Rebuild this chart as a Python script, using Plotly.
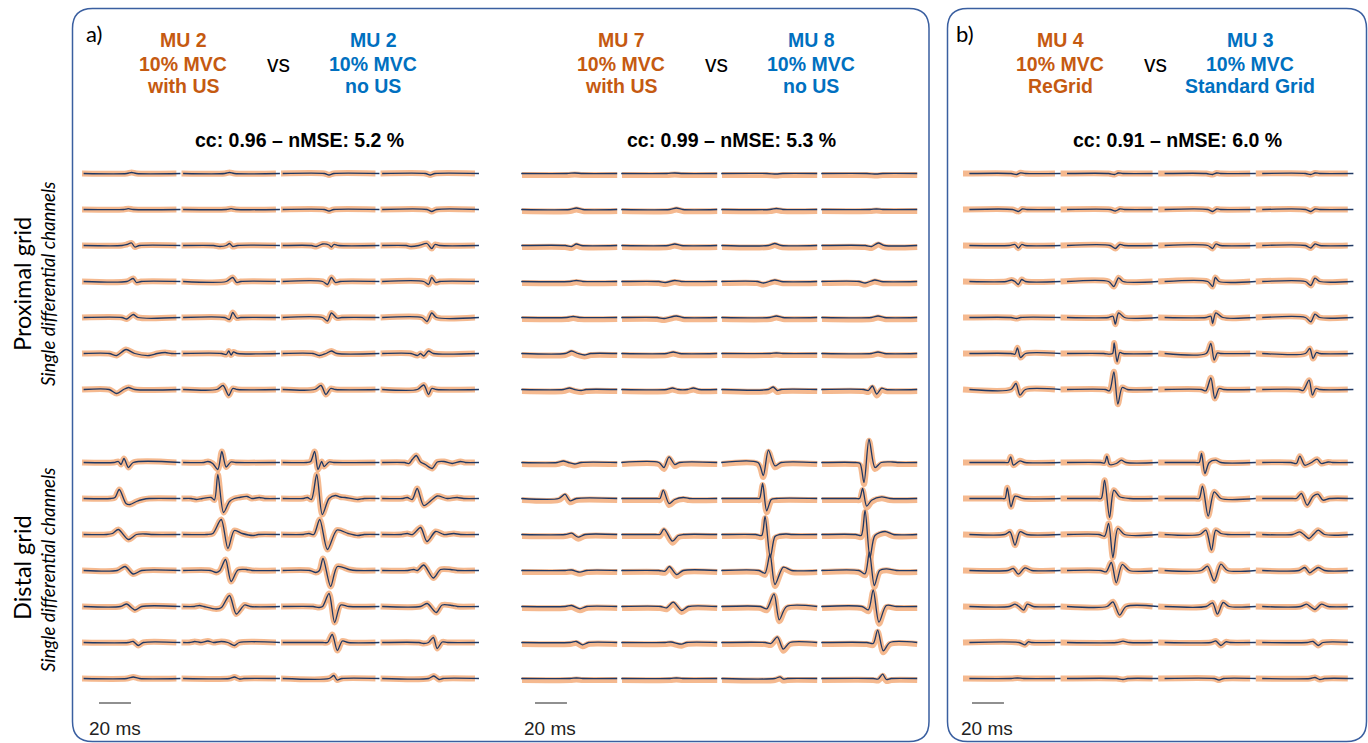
import plotly.graph_objects as go

# ---------------- DATA (time in ms within a channel window, amplitude in a.u.) ----------------
# Each grid: 7 rows (top -> bottom) x 4 columns; each cell = list of [t_ms, amplitude] knots
A1_PROX = [
    [[[28, 0], [31, 1], [34, 0]], [[27, 0], [30, 1], [33, 0]], [[27, 0], [30, -1.5], [33, 0]], [[28, 0], [31, -1.5], [34, 0]]],
    [[[26, 0], [29, 0.8], [32, 0]], [[28, 0], [31, 0.8], [34, 0]], [[27, 0], [30, -1.5], [33, 0]], [[29, 0], [32, -2], [35, 0]]],
    [[[25, 0], [28, 1], [31, 2.5], [33, -1.5], [36, 0]], [[20, 0], [24, -1], [28, 0], [30, 2], [32, -1], [35, 0]],
     [[19, 0], [22, -1], [26, 1.5], [30, 0.5], [31.5, -1.5], [33, 1], [36, 0]], [[16, 0], [19, -1], [24, 0], [29, 2], [32, -3], [34, 1], [37, 0]]],
    [[[28, 0], [32, 3], [34, -1], [37, 0]], [[28, 0], [32, 4], [34.5, -1], [37, 0]],
     [[26, 0], [29, -3], [31.5, 4], [34, -1], [37, 0]], [[27, 0], [30, -3], [32, 4], [34.5, -1], [37, 0]]],
    [[[25, 0], [28, -1.5], [32, 3], [35, 0]], [[27, 0], [30, -2], [32, 5], [34.5, -0.5], [37, 0]],
     [[26, 0], [29, -3.5], [31.5, 4.5], [35, -0.5], [38, 0]], [[26, 0], [29, -4], [32, 4.5], [35, 0]]],
    [[[17, 0], [21.7, -2], [27.5, 4], [33, 0], [42, -2], [47, 0], [52, 1], [56, 0]],
     [[25, 0], [28, -1], [29.5, 2.5], [31, -1.5], [32.5, 1.5], [35, 0]],
     [[20, 0], [24, -2], [28, 0], [31.5, 2.5], [35, 0]], [[19, 0], [23, -2], [25, 0], [27, -2.5], [30, 2.5], [33, 0]]],
    [[[17, 0], [21.7, -4], [26, 0], [29, 2], [33, 0]], [[22, 0], [26, 4], [29.5, -6], [32, 1], [35, 0]],
     [[21, 0], [25, 4], [28, -5], [31, 1], [34, 0]], [[23, 0], [27, 4.5], [30, -5], [32, 1], [35, 0]]],
]
A1_DIST = [
    [[[20, 0], [22.7, 1], [24.4, -2], [26.25, 4], [29, -5], [32, 0]],
     [[14, 0], [16.5, 1], [19.5, -1], [22.7, -7], [25.2, 11], [27.9, -4.5], [30.8, 0.5], [34, 0]],
     [[16, 0], [18.5, 1], [21, 11], [23.1, -7], [25.4, 1], [26.9, -4], [30, 0.5], [33, 0]],
     [[15, 0], [17.7, -1], [19.8, 3], [22.3, 7], [25, 0.5], [28, -2], [32.3, -6], [35.4, 0.5], [39.6, 1], [44.8, -1], [50, 1], [53, 0]]],
    [[[18, 0], [20.6, 1], [23.3, 9], [27.5, -5], [30, -6], [34, -3], [38, -1], [42, 0]],
     [[6, 0], [9.2, -1], [13, 0], [18.5, 1], [20.6, -1.5], [22.7, 24], [26.25, -14], [30, -3], [33, 0], [36, 1], [41, 2], [44, 0], [48.6, 1], [52, 0]],
     [[14, 0], [16.5, 1], [19, -1], [22.3, 24], [25.8, -16], [30, 0], [34, 3], [37, 1.5], [40, 1], [48, -1], [52, 0]],
     [[14, 0], [16.7, 1], [19.8, -1], [22.9, 10], [27, -7], [32.3, -1], [35.4, 2.5], [41.7, 0], [47.9, 1], [52, 0]]],
    [[[15.4, 0], [19, 1], [22.7, 5], [29, -5], [34, 0], [40, 0.5], [44, 0]],
     [[16, 0], [19.6, 1], [24.8, 15], [29, -14], [33, 4], [38, 1], [44.6, -1], [48, 0]],
     [[14, 0], [17.5, 1], [20.5, 0], [24.2, 15], [29, -15], [35, 4.5], [42, 1], [48, -1], [52, 0]],
     [[13, 0], [16.7, 1], [20, 0], [25, 7], [29, -7], [34.4, 3], [39.6, 0], [45.8, 1], [50, 0]]],
    [[[22, 0], [26.9, 4], [32, -3.5], [37.3, 0]],
     [[18, 0], [21.7, -2], [24, 0], [27.5, 11], [31, -11], [35.2, 0.5], [40.4, 1], [44, 0]],
     [[18, 0], [21.7, -2], [24, 0], [26.25, 12], [31, -16], [35.2, 4], [42.5, 1], [47, 0]],
     [[17, 0], [20.8, 1], [23, 0], [27, 5.5], [33, -7.5], [37.5, 1], [43.75, 1], [48, 0]]],
    [[[24, 0], [27.9, 2.5], [33.1, -3.5], [37.3, 0]],
     [[8, 0], [11.25, 1], [14, 0], [21.7, -2.5], [25, -1], [30, 11], [34.2, -7.5], [39.4, 1.5], [43, 0]],
     [[20, 0], [23.75, -1], [26, 0], [30, 13], [33.5, -16], [37.3, 1.5], [42.5, 0]],
     [[25, 0], [29.2, 3], [34.8, -6], [38.5, 1.5], [44.8, 1], [48, 0]]],
    [[[29, 0], [32, 1], [35.2, -3], [38.3, 0]],
     [[5, 0], [8.3, 1], [12, 0], [16.5, 1.5], [20, 0], [24.8, 1], [29, 0], [33.1, -3], [36, 0]],
     [[26, 0], [29, 0], [32, 8], [35.2, -8], [38.3, 1.5], [42, 0]],
     [[24, 0], [27, -1], [30, 0], [33, 5], [35.4, -6], [38.5, 0.5], [42, 0]]],
    [[[28, 0], [32, 1.5], [36, 0]], [[30, 0], [33, 1.5], [36.25, -0.5], [39, 0]],
     [[30, 0], [33, 3], [35, -1.5], [38, 0]], [[30, 0], [33.3, 2.5], [36.5, -1], [39, 0]]],
]

A2_PROX = [
    [[[28, 0], [33, 0.5], [38, 0]], [[28, 0], [33, 0.5], [38, 0]], [[28, 0], [34, -0.5], [38, 0]], [[28, 0], [34, -0.5], [38, 0]]],
    [[[30, 0], [34, 1.5], [38, 0]], [[30, 0], [34, 1.5], [38, 0]], [[30, 0], [34, 1], [38, 0]], [[30, 0], [34, 0.5], [38, 0]]],
    [[[27, 0], [31, -1], [34, 1.5], [37, 0]], [[29, 0], [33, 1.5], [37, 0]], [[29, 0], [33, 2], [37, 0]],
     [[27, 0], [31, -1], [35.2, 2.5], [39, 0]]],
    [[[30, 0], [34, 1], [38, 0]], [[23, 0], [27, -1], [33, 1], [37, 0]], [[22, 0], [26, -1.5], [33, 1.5], [37, 0]],
     [[23, 0], [27, -1.5], [33, 1.5], [37, 0]]],
    [[[28, 0], [32, 1], [36, 0]], [[22, 0], [26, -1], [34, 1.5], [38, 0]], [[30, 0], [34, 1.5], [38, 0]], [[31, 0], [35, 1.5], [39, 0]]],
    [[[27, 0], [31, 2.5], [35, 0], [39, -1.5], [43, 0]], [[28, 0], [32, 1.5], [36, 0]], [[30, 0], [34, 0.5], [38, 0]],
     [[31, 0], [35, 1.5], [39, 0]]],
    [[[26, 0], [29.6, 1.5], [33, 0], [37, -1], [40, 0]], [[28, 0], [31.5, 1.5], [35, 0], [41, 0], [44.6, 1.5], [48, 0]],
     [[29, 0], [32, 2.5], [34.5, -1], [37, 0]], [[26, 0], [29, -1], [31.5, 3.5], [34.2, -4.5], [37.3, 1.3], [40, 0]]],
]
A2_DIST = [
    [[[22, 0], [25.8, 1.5], [29, 0], [33, -1.5], [37, 0]],
     [[23, 0], [26.25, -5], [29.4, 5.7], [33, -2], [36, 0]],
     [[22.5, 0], [25.8, -13], [29, 12.3], [33.1, -3.3], [37, 0]],
     [[21, 0], [23.75, -1], [26.25, -20], [29.4, 23.3], [33.1, -5], [37, 0], [44, 0.5], [48, 0]]],
    [[[23, 0], [26.9, 4.3], [30, -2.3], [34, 0]],
     [[22, 0], [23.75, 0], [25.8, 8.3], [29.4, -5], [33, -1], [38.3, 1], [42, 0]],
     [[22, 0], [23.5, 0], [25.4, 15], [27.9, -12.3], [30.8, -1], [34, 0]],
     [[21, 0], [23.5, 0], [25.4, 10], [27.9, -7.7], [31, -1.7], [37.3, 1.7], [42.5, 0]]],
    [[[27, 0], [31, 1.3], [35.2, -2.7], [39.4, 0]],
     [[21, 0], [23.75, 0], [26.25, 5.7], [31.5, -6.7], [35.2, -1], [38.3, 0]],
     [[21, 0], [24.8, -1], [26.9, 18], [30.2, -23], [33.1, -2], [36, 0], [40, 0.5], [44, 0]],
     [[21, 0], [24.5, -1], [26.9, 24], [30, -23], [33.1, -1], [39.4, 3], [44.6, 0]]],
    [[[27, 0], [31, 0.5], [36.25, -1.7], [40.4, 0]],
     [[23, 0], [26.9, -0.7], [29.6, 4], [34.2, -4], [38.3, 0]],
     [[23, 0], [26.9, -2.7], [30, 16.7], [33.1, -14], [38.3, 3.3], [43.5, 0]],
     [[23, 0], [26.9, -3.3], [29.6, 18.3], [32.7, -15], [36, 0], [40.2, 1.7], [46.5, 0]]],
    [[[27, 0], [31, 1], [36.25, -2.3], [40.4, 0]],
     [[24, 0], [27.9, -1.3], [32, 4.3], [37.3, -4], [41.5, 0]],
     [[24, 0], [28, -2.3], [32.5, 12.7], [35.8, -13.3], [40.4, 0]],
     [[25, 0], [29, -3.3], [32, 16.7], [35.6, -15.7], [40.2, 1], [46.5, 0]]],
    [[[30, 0], [34, 1], [37.9, -2.3], [41.5, 0]],
     [[27, 0], [30.6, 0.5], [37.3, -1.7], [40.4, 0]],
     [[27, 0], [30.6, -1], [34.6, 5.7], [38.3, -6.7], [42.5, 0]],
     [[28, 0], [32, -1], [34.8, 12.3], [38.3, -8.3], [42.5, 0]]],
    [[[30, 0], [34, 0.5], [38, 0]], [[30, 0], [34, 0.5], [38, 0]],
     [[33, 0], [36.25, 1.7], [38.3, -0.5], [41, 0]], [[32, 0], [35.2, -0.5], [37.9, 4.3], [40.2, -1], [43.3, 0]]],
]

B_PROX = [
    [[[30, 0], [33.5, -1], [36, 0.7], [39, 0]], [[30, 0], [33.75, -1], [36, 0.5], [39, 0]],
     [[30, 0], [34, -1], [36.5, 0.5], [39, 0]], [[31, 0], [34.4, -1], [37, 0.5], [40, 0]]],
    [[[31, 0], [34.6, -2], [37, 0.5], [40, 0]], [[31, 0], [34.2, -1.5], [37, 0.5], [40, 0]],
     [[31, 0], [34, -2], [36.5, 0.5], [39, 0]], [[31, 0], [34.4, -2], [37, 0.5], [40, 0]]],
    [[[29, 0], [32.5, 1], [34.6, -2.7], [36.7, 1], [39, 0]], [[31, 0], [34.2, -3], [37, 1], [40, 0]],
     [[31, 0], [34, -3], [36, 1.5], [39, 0]], [[31, 0], [34.4, -2.5], [37, 1.5], [40, 0]]],
    [[[27, 0], [30.4, 1.5], [32.5, 0], [34.6, -3], [36.7, 2], [39, 0]], [[30, 0], [33.3, -5], [36.25, 3.7], [39, 0]],
     [[31, 0], [34, -5], [35.7, 4], [38, 0]], [[31, 0], [34.4, -4], [37, 3.3], [40, 0]]],
    [[[30, 0], [33.5, -1], [36, 0]], [[30, 0], [32.7, 1.3], [34.2, -6.7], [36.25, 4.7], [40, 0]],
     [[30, 0], [32.9, 1.3], [34, -6], [36, 4.7], [40.4, 0]], [[31, 0], [34.4, -4.3], [37, 3.3], [40, 0]]],
    [[[30, 0], [32.5, -0.7], [34, 5.7], [36, -4], [39, 0]],
     [[27, 0], [30.6, -0.7], [32.5, 0], [33.5, 10.5], [35.3, -8.3], [37, 1], [39, 0]],
     [[30, 0], [32.9, 10], [35, -6.7], [37, 0.5], [39, 0]], [[31, 0], [33.75, 5], [35.8, -5], [37.9, 1], [40, 0]]],
    [[[30, 0], [33.1, 6], [35.6, -5.7], [39, 0]],
     [[28, 0], [30.6, -1.3], [33.3, 17.7], [35.8, -14.7], [38.5, 2], [41.7, 0]],
     [[27, 0], [29.8, -1.3], [32.9, 11.7], [35.4, -9], [38.1, 1], [41, 0]],
     [[27, 0], [29.6, -1], [33.3, 9.3], [35.4, -5.7], [37.5, 1], [40, 0]]],
]
B_DIST = [
    [[[26, 0], [28.3, 0], [29.8, 5.7], [31.5, -2.7], [35.6, 1.7], [38.8, 0]],
     [[25, 0], [27.5, -0.5], [28.9, 6.3], [30.6, -2], [34.8, -1], [37.9, 2.3], [41, 0]],
     [[23, 0], [25.6, 0], [27.1, 9], [29.2, -11], [31.9, 0], [36, 2.3], [39.2, 0]],
     [[22, 0], [25.4, -1], [27.5, 6.3], [30.6, -2.7], [34.8, 0], [38.3, 3.3], [41, -1], [45.2, 0.5], [48, 0]]],
    [[[24, 0], [26.25, 0], [27.7, 10.7], [30, -8.3], [32.5, 2.3], [37.7, 0]],
     [[23, 0], [25.4, 0], [27.5, 18.3], [30.6, -19], [33.3, 8.3], [36.9, 1.7], [43, 0]],
     [[23, 0], [25.6, 0], [27.7, 12.3], [31.25, -17.7], [35, 6.7], [39.2, 0]],
     [[23, 0], [25.4, 0], [28.5, 5], [32.1, -6.7], [35.8, 2.3], [38.9, 4.3], [42, -1.7], [46.25, 0]]],
    [[[26, 0], [29.4, 2.7], [32.5, -10.7], [35.6, 2.7], [39.8, 0]],
     [[24, 0], [27.5, -1.7], [30, 11], [32.7, -23], [35.8, 6], [40, 0]],
     [[26, 0], [29.8, 4.3], [33.3, -15.7], [36, 4.3], [39.2, 1], [43.3, 0]],
     [[23, 0], [27.5, 2.7], [30, 0], [33.3, -4], [36, 0], [39, 4.3], [43, 0]]],
    [[[28, 0], [31.5, 2], [34.6, -3.7], [38.75, 2.7], [43, 0]],
     [[25, 0], [28.5, -1.3], [31.7, 8], [34.8, -12.3], [38.5, 6], [43, 0]],
     [[27, 0], [30.8, 4.3], [35, -10.3], [39.2, 6.3], [43.3, 0]],
     [[27, 0], [30.6, 3], [33.75, -2.3], [36, 0], [39, 3], [43, 0]]],
    [[[29, 0], [32.5, 2.3], [35, 0], [38, -3.7], [40.2, 2.3], [44, 0]],
     [[29, 0], [32.7, 4.7], [36.9, -8.7], [41, 0]],
     [[30, 0], [34, 3.7], [37, -7.7], [40.6, 4], [44.4, 0]],
     [[28, 0], [31.7, 2.3], [34, 0], [36.9, -3], [41, 2.3], [45.2, 0]]],
    [[[35, 0], [38.75, -2.3], [40.8, 0.7], [43, 0]], [[35, 0], [39, 1.3], [43, 0]],
     [[33, 0], [36, 1.5], [39.2, -3], [42.3, 0.7], [45, 0]], [[32, 0], [35.8, 1], [39, -3], [42, 0]]],
    [[[30, 0], [34, 0.5], [38, 0]], [[35, 0], [39, -1], [42, 0]],
     [[35, 0], [38, -1.5], [41, 0]], [[34, 0], [37, 1], [40, -1], [43, 0]]],
]

ORANGE_TITLES = [["MU 2", "10% MVC", "with US"], ["MU 7", "10% MVC", "with US"], ["MU 4", "10% MVC", "ReGrid"]]
BLUE_TITLES = [["MU 2", "10% MVC", "no US"], ["MU 8", "10% MVC", "no US"], ["MU 3", "10% MVC", "Standard Grid"]]
SIMILARITY = ["cc: 0.96 – nMSE: 5.2 %", "cc: 0.99 – nMSE: 5.3 %", "cc: 0.91 – nMSE: 6.0 %"]
SCALE_MS = 20
SCALE_LABEL = "20 ms"

# ---------------- LAYOUT / STYLE ----------------
W, H = 1368, 743
PX_PER_MS = 1.6
Y_TOP = 173.5          # pixel row of first baseline
ROW_STEP = 36
DIST_OFFSET = 289
ORANGE = "#C55A11"
BLUE = "#0070C0"
FRAME = "#3A5FA0"

PANELS = [
    dict(prox=A1_PROX, dist=A1_DIST, origin_px=82, pitch_ms=62.2, o_ms=(0, 59), b_ms=(1, 61.5), o_dy=0,
         bar_ms=10.6, dom_px=(75, 485), ox=183, bx=373, vsx=278, ccx=299, lab_x=114.5),
    dict(prox=A2_PROX, dist=A2_DIST, origin_px=522, pitch_ms=62.5, o_ms=(0, 59.5), b_ms=(-0.5, 59.5), o_dy=-1.5,
         bar_ms=8.1, dom_px=(510, 925), ox=621, bx=811, vsx=716, ccx=731, lab_x=550),
    dict(prox=B_PROX, dist=B_DIST, origin_px=963, pitch_ms=61.0, o_ms=(0, 57.5), b_ms=(4, 61), o_dy=0,
         bar_ms=5.6, dom_px=(950, 1362), ox=1060, bx=1250, vsx=1155, ccx=1177.5, lab_x=987),
]

fig = go.Figure()

for i, p in enumerate(PANELS):
    xa = "x" if i == 0 else f"x{i + 1}"
    for kind in ("orange", "blue"):
        xs, ys = [], []
        t0, t1 = p["o_ms"] if kind == "orange" else p["b_ms"]
        dy = p["o_dy"] if kind == "orange" else 0
        for g, grid in enumerate((p["prox"], p["dist"])):
            for r, row in enumerate(grid):
                base = -(r * ROW_STEP) - (DIST_OFFSET if g else 0) + dy
                for c, cell in enumerate(row):
                    knots = [[t0, 0]] + cell + [[t1, 0]]
                    for t, a in knots:
                        xs.append(c * p["pitch_ms"] + t)
                        ys.append(base + a)
                    xs.append(None)
                    ys.append(None)
        if kind == "orange":
            line = dict(color="rgba(244,177,131,0.9)", width=6, shape="spline", smoothing=0.8)
        else:
            line = dict(color="#1F3864", width=1.3, shape="spline", smoothing=0.8)
        fig.add_trace(go.Scatter(x=xs, y=ys, mode="lines", line=line, xaxis=xa, yaxis="y",
                                 hoverinfo="skip", showlegend=False))
    # scale bar
    fig.add_trace(go.Scatter(x=[p["bar_ms"], p["bar_ms"] + SCALE_MS], y=[Y_TOP - 703, Y_TOP - 703],
                             mode="lines", line=dict(color="#222", width=1.2), xaxis=xa, yaxis="y",
                             hoverinfo="skip", showlegend=False))

layout = dict(
    width=W, height=H, margin=dict(l=0, r=0, t=0, b=0),
    paper_bgcolor="white", plot_bgcolor="rgba(0,0,0,0)", showlegend=False,
    yaxis=dict(domain=[0, 1], range=[Y_TOP - H, Y_TOP], visible=False, anchor="x"),
    xaxis4=dict(domain=[0, 1], range=[0, W], visible=False, anchor="y2"),
    yaxis2=dict(domain=[0, 1], range=[H, 0], visible=False, anchor="x4"),
)
for i, p in enumerate(PANELS):
    key = "xaxis" if i == 0 else f"xaxis{i + 1}"
    d0, d1 = p["dom_px"]
    layout[key] = dict(domain=[d0 / W, d1 / W],
                       range=[(d0 - p["origin_px"]) / PX_PER_MS, (d1 - p["origin_px"]) / PX_PER_MS],
                       visible=False, anchor="y")
fig.update_layout(**layout)


def rounded(x0, y0, x1, y1, r):
    return (f"M {x0 + r},{y0} L {x1 - r},{y0} Q {x1},{y0} {x1},{y0 + r} L {x1},{y1 - r} "
            f"Q {x1},{y1} {x1 - r},{y1} L {x0 + r},{y1} Q {x0},{y1} {x0},{y1 - r} "
            f"L {x0},{y0 + r} Q {x0},{y0} {x0 + r},{y0} Z")


for box in [(72.5, 8.5, 929, 741.5), (947.5, 8.5, 1366.5, 741.5)]:
    fig.add_shape(type="path", path=rounded(*box, 20), xref="x4", yref="y2",
                  line=dict(color=FRAME, width=1.5))

BOLD = "Liberation Sans, Arial, sans-serif"
LIGHT = "Lato, Carlito, sans-serif"
ann = []


def txt(x, y, s, size, color="black", family=BOLD, angle=0):
    ann.append(dict(x=x, y=y, xref="x4", yref="y2", text=s, showarrow=False, textangle=angle,
                    font=dict(family=family, size=size, color=color), xanchor="center", yanchor="middle"))


LINE_Y = [40, 63.5, 86]
for i, p in enumerate(PANELS):
    for k in range(3):
        txt(p["ox"], LINE_Y[k], f"<b>{ORANGE_TITLES[i][k]}</b>", 19.5, ORANGE)
        txt(p["bx"], LINE_Y[k], f"<b>{BLUE_TITLES[i][k]}</b>", 19.5, BLUE)
    txt(p["vsx"], 64, "vs", 23)
    txt(p["ccx"], 139.5, f"<b>{SIMILARITY[i]}</b>", 19.5)
    txt(p["lab_x"], 728.5, SCALE_LABEL, 19, "#222")

txt(93.5, 33, "a)", 22, family=LIGHT)
txt(964.5, 33, "b)", 22, family=LIGHT)
txt(22, 284, "Proximal grid", 23.5, family=LIGHT, angle=-90)
txt(48, 284, "<i>Single differential channels</i>", 18.5, family=LIGHT, angle=-90)
txt(22, 568, "Distal grid", 23.5, family=LIGHT, angle=-90)
txt(48, 570, "<i>Single differential channels</i>", 18.5, family=LIGHT, angle=-90)

fig.update_layout(annotations=ann)
fig.write_html("out.html", config={"displayModeBar": False},
               post_script="document.body.style.margin='0';")
